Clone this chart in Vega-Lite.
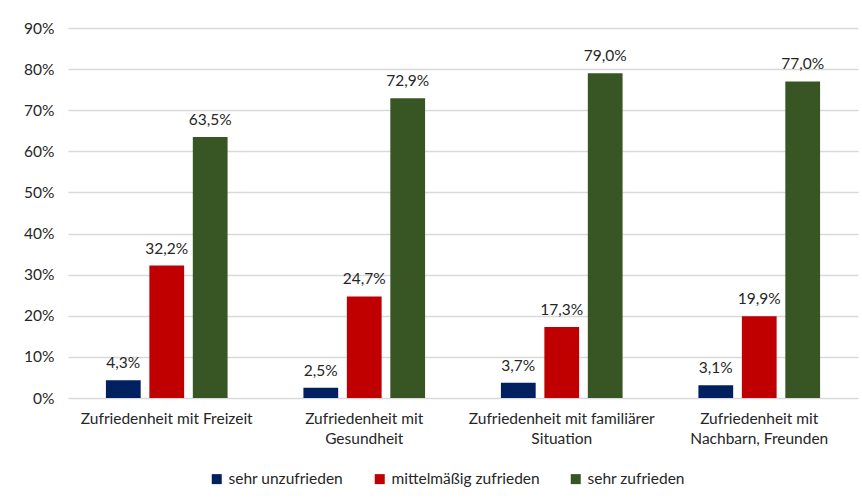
{
  "$schema": "https://vega.github.io/schema/vega-lite/v6.json",
  "width": 790,
  "height": 370,
  "autosize": {"type": "none"},
  "padding": {"left": 68, "top": 28, "right": 4, "bottom": 101},
  "config": {
    "locale": {"number": {"decimal": ",", "thousands": ".", "grouping": [3], "currency": ["", " €"]}},
    "font": "Lato",
    "view": {"stroke": null},
    "axis": {"labelFont": "Lato", "labelColor": "#262626", "labelFontSize": 15.5},
    "legend": {"labelFont": "Lato", "labelColor": "#262626", "labelFontSize": 15.5}
  },
  "data": {
    "values": [
      {"Bereich": "Zufriedenheit mit Freizeit", "Antwort": "sehr unzufrieden", "Anteil": 0.043},
      {"Bereich": "Zufriedenheit mit Freizeit", "Antwort": "mittelmäßig zufrieden", "Anteil": 0.322},
      {"Bereich": "Zufriedenheit mit Freizeit", "Antwort": "sehr zufrieden", "Anteil": 0.635},
      {"Bereich": "Zufriedenheit mit Gesundheit", "Antwort": "sehr unzufrieden", "Anteil": 0.025},
      {"Bereich": "Zufriedenheit mit Gesundheit", "Antwort": "mittelmäßig zufrieden", "Anteil": 0.247},
      {"Bereich": "Zufriedenheit mit Gesundheit", "Antwort": "sehr zufrieden", "Anteil": 0.729},
      {"Bereich": "Zufriedenheit mit familiärer Situation", "Antwort": "sehr unzufrieden", "Anteil": 0.037},
      {"Bereich": "Zufriedenheit mit familiärer Situation", "Antwort": "mittelmäßig zufrieden", "Anteil": 0.173},
      {"Bereich": "Zufriedenheit mit familiärer Situation", "Antwort": "sehr zufrieden", "Anteil": 0.790},
      {"Bereich": "Zufriedenheit mit Nachbarn, Freunden", "Antwort": "sehr unzufrieden", "Anteil": 0.031},
      {"Bereich": "Zufriedenheit mit Nachbarn, Freunden", "Antwort": "mittelmäßig zufrieden", "Anteil": 0.199},
      {"Bereich": "Zufriedenheit mit Nachbarn, Freunden", "Antwort": "sehr zufrieden", "Anteil": 0.770}
    ]
  },
  "encoding": {
    "x": {
      "field": "Bereich",
      "type": "nominal",
      "sort": null,
      "title": null,
      "scale": {"paddingInner": 0.34, "paddingOuter": 0.17},
      "axis": {
        "labelAngle": 0,
        "domain": false,
        "ticks": false,
        "labelPadding": 13,
        "labelLineHeight": 20,
        "labelLimit": 0,
        "labelExpr": "datum.label == 'Zufriedenheit mit Gesundheit' ? ['Zufriedenheit mit', 'Gesundheit'] : datum.label == 'Zufriedenheit mit familiärer Situation' ? ['Zufriedenheit mit familiärer', 'Situation'] : datum.label == 'Zufriedenheit mit Nachbarn, Freunden' ? ['Zufriedenheit mit', 'Nachbarn, Freunden'] : datum.label"
      }
    },
    "xOffset": {
      "field": "Antwort",
      "type": "nominal",
      "sort": ["sehr unzufrieden", "mittelmäßig zufrieden", "sehr zufrieden"],
      "scale": {"paddingInner": 0.2, "paddingOuter": 0.1}
    },
    "y": {
      "field": "Anteil",
      "type": "quantitative",
      "title": null,
      "scale": {"domain": [0, 0.9]},
      "axis": {
        "values": [0, 0.1, 0.2, 0.3, 0.4, 0.5, 0.6, 0.7, 0.8, 0.9],
        "format": ".0%",
        "domain": false,
        "ticks": false,
        "labelPadding": 14,
        "gridColor": "#D9D9D9",
        "gridWidth": 1.5
      }
    }
  },
  "layer": [
    {
      "mark": {"type": "bar"},
      "encoding": {
        "color": {
          "field": "Antwort",
          "type": "nominal",
          "sort": ["sehr unzufrieden", "mittelmäßig zufrieden", "sehr zufrieden"],
          "scale": {
            "domain": ["sehr unzufrieden", "mittelmäßig zufrieden", "sehr zufrieden"],
            "range": ["#002060", "#C00000", "#375623"]
          },
          "legend": {
            "title": null,
            "orient": "none",
            "legendX": 141,
            "legendY": 443,
            "direction": "horizontal",
            "symbolType": "square",
            "symbolSize": 100,
            "symbolStrokeWidth": 0,
            "columnPadding": 28,
            "labelOffset": 4
          }
        }
      }
    },
    {
      "mark": {"type": "text", "baseline": "bottom", "dy": -9, "fontSize": 15.5, "color": "#262626", "font": "Lato"},
      "encoding": {
        "text": {"field": "Anteil", "type": "quantitative", "format": ".1%"}
      }
    }
  ]
}
